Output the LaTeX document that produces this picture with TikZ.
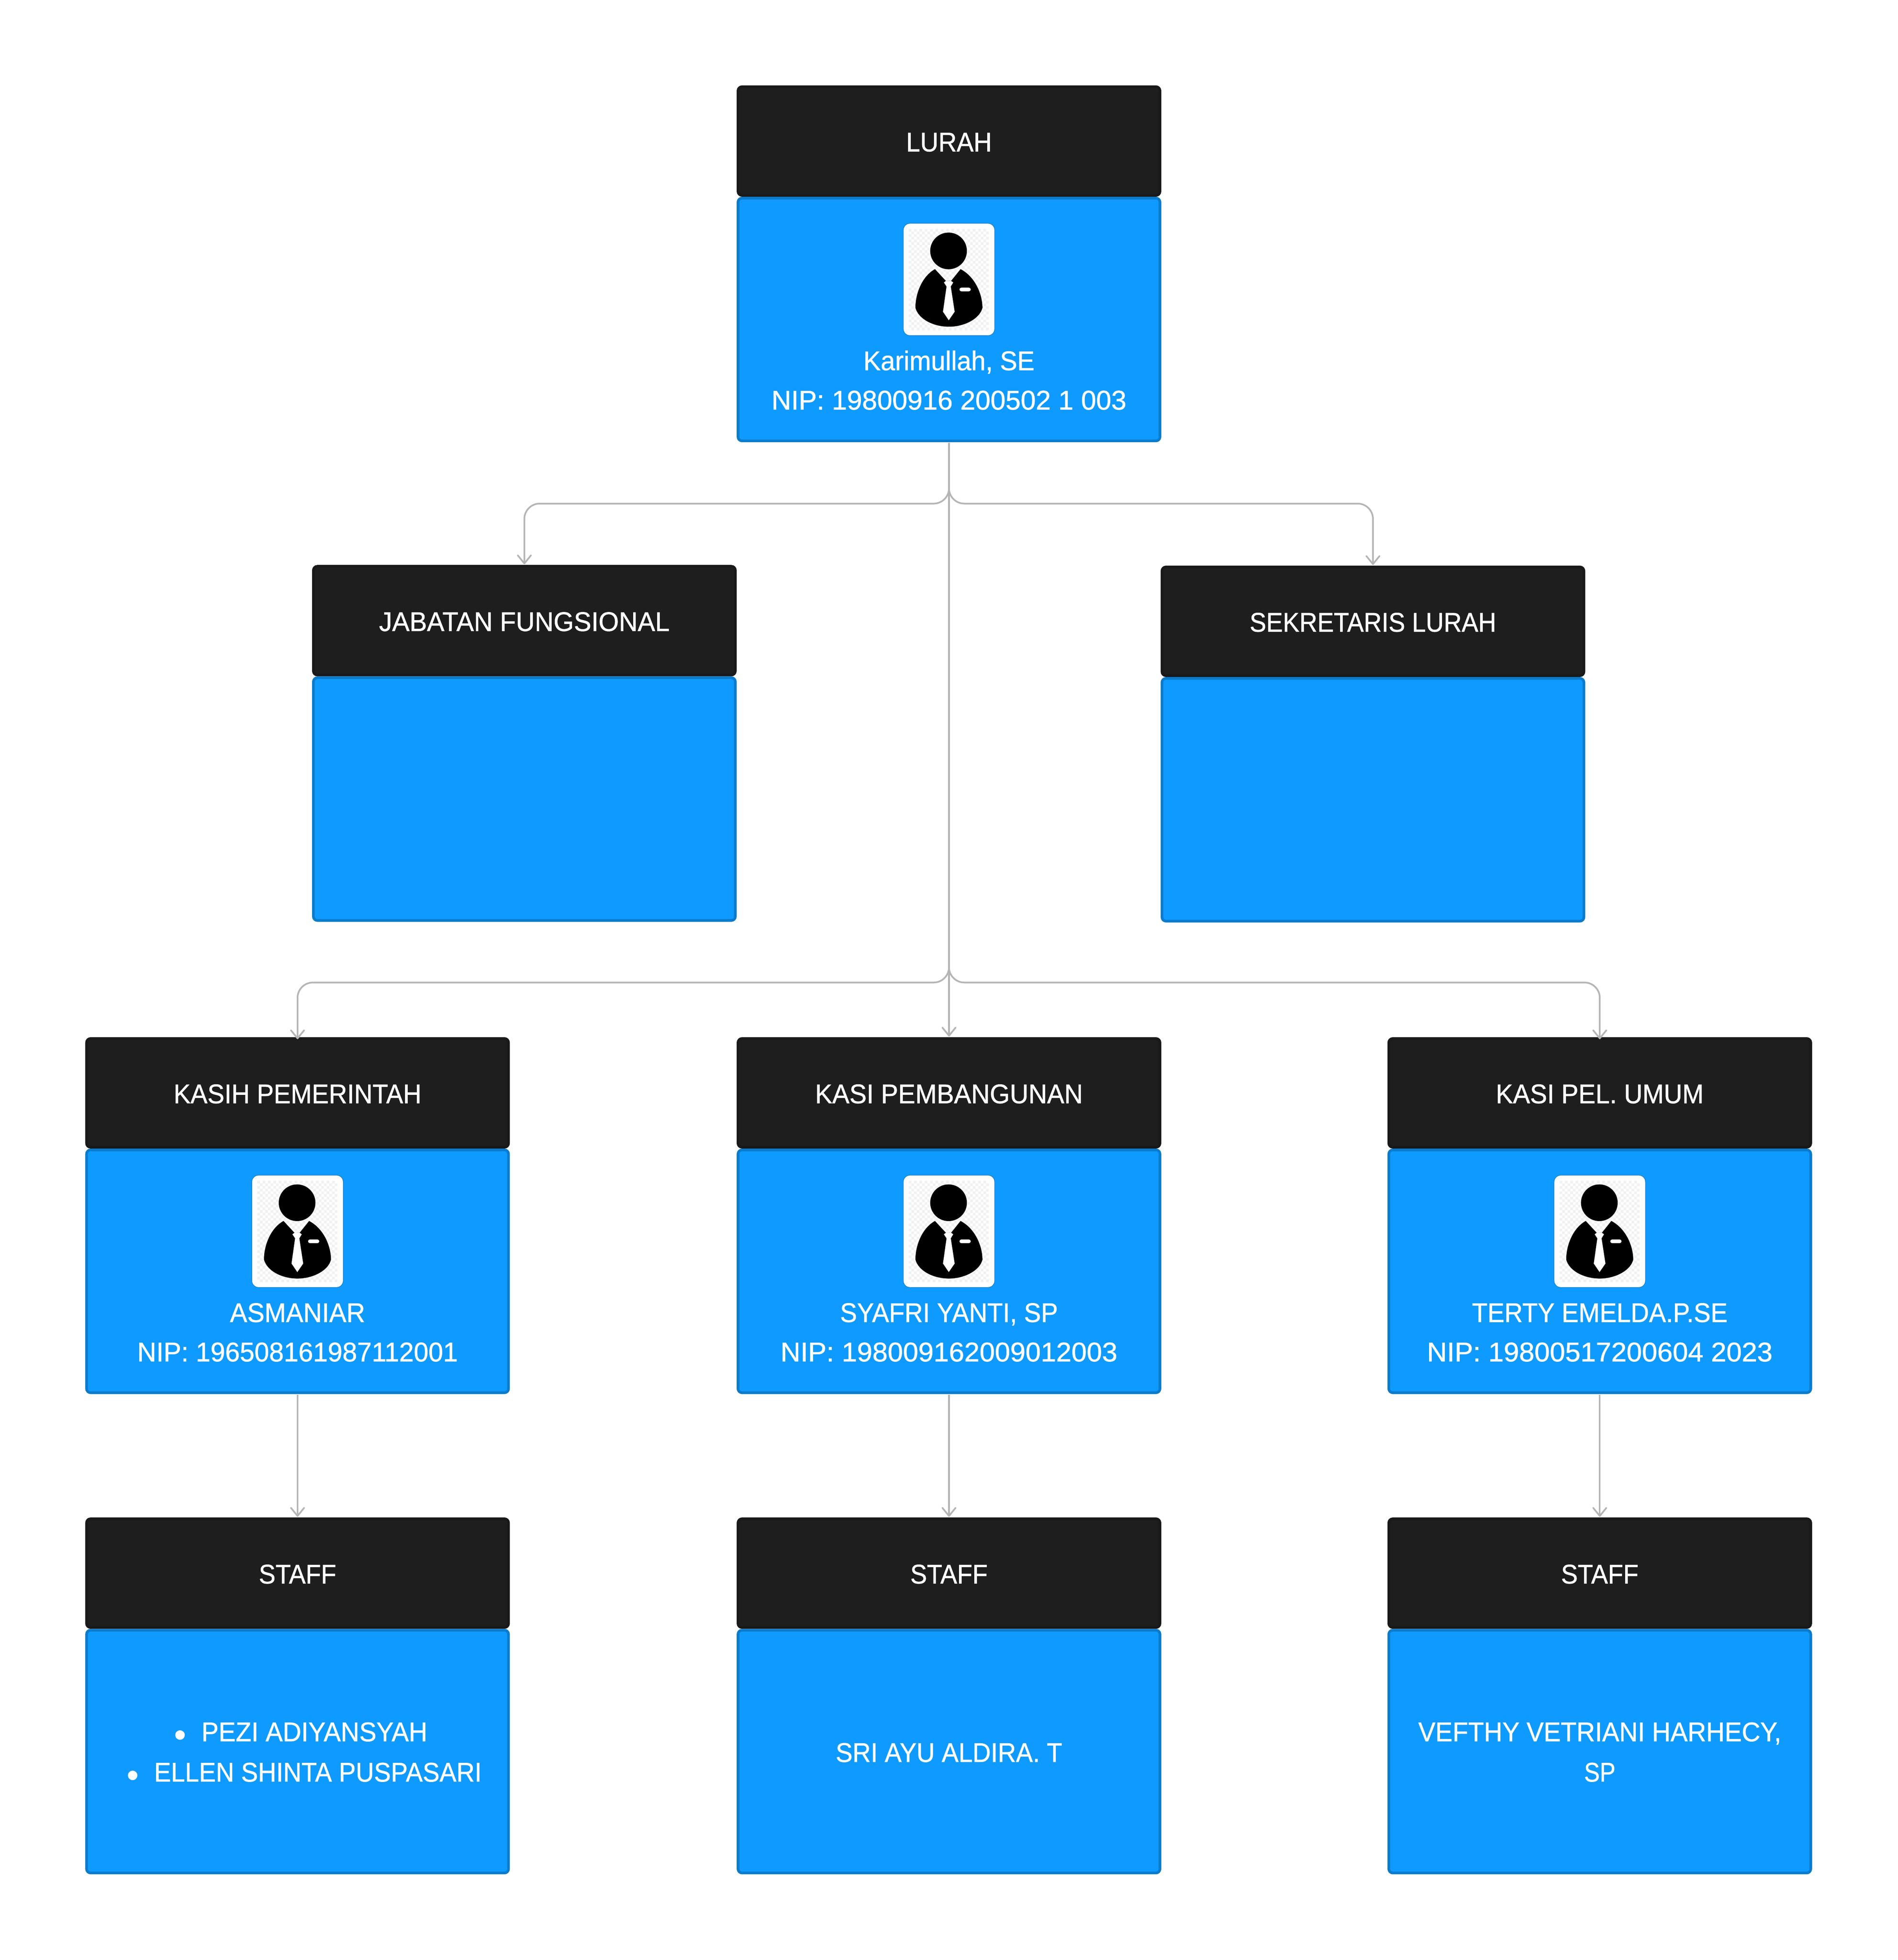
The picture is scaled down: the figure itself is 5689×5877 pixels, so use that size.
\documentclass[tikz,border=0pt]{standalone}
\usepackage{graphicx}
\usepackage{fontspec}
\setmainfont[FakeStretch=1.0]{Liberation Sans}
\newfontfamily\labelfont[FakeBold=1]{Liberation Sans}
\usetikzlibrary{arrows.meta}
\definecolor{headfill}{HTML}{1E1E1E}
\definecolor{headline}{HTML}{191919}
\definecolor{bodyfill}{HTML}{0F9AFF}
\definecolor{bodyline}{HTML}{0B7BCC}
\definecolor{wire}{HTML}{B5B5B5}
\definecolor{checkgray}{HTML}{F1F1F1}
\newcommand{\fitw}[2]{\resizebox{#1\dimexpr0.1pt\relax}{\height}{#2}}
\newcommand{\listdot}{\makebox[8.2pt][l]{\raisebox{-1.5pt}{\scalebox{1.25}{•}}}}
\tikzset{
  headbox/.style={draw=headline,fill=headfill,line width=0.8pt,rounded corners=1.2pt,
    minimum width=126.5pt,minimum height=32.6pt,inner sep=0pt,outer sep=0pt,
    text height=6.2pt,text depth=0pt,
    text=white,font=\labelfont\fontsize{8.1}{12}\selectfont},
  bodybox/.style={draw=bodyline,fill=bodyfill,line width=0.8pt,rounded corners=1.2pt,
    minimum width=126.5pt,minimum height=72.8pt,inner sep=0pt,outer sep=0pt},
  bodytext/.style={text=white,inner sep=0pt,anchor=base,font=\labelfont\fontsize{8.1}{12}\selectfont},
  listtext/.style={text=white,inner sep=0pt,anchor=base west,font=\labelfont\fontsize{8.1}{12}\selectfont},
  wireline/.style={draw=wire,line width=0.5pt,
    -{Straight Barb[length=2.4pt,width=3.9pt,line width=0.5pt,round]},
    shorten >=0.6pt,shorten <=0.6pt},
  wirecurve/.style={wireline,rounded corners=4.6pt},
  person/.pic={
    \begin{scope}[x=0.03333pt,y=-0.03333pt,shift={(-584,-565)}]
      \fill[white,draw=bodyline,line width=0.15pt,rounded corners=2pt] (173,60) rectangle (995,1070);
      \fill[checkgray]
        \foreach \i in {0,...,29}{\foreach \j in {0,...,37}{
          \pgfextra{\pgfmathtruncatemacro{\odd}{mod(\i+\j,2)}}
          \ifnum\odd=0 (222+\i*24,110+\j*24) rectangle ++(24,24) \fi
        }};
      \fill[black] (580,308) circle[radius=165];
      \fill[black] (458,472) -- (556,578) -- (603,578) -- (688,472)
        .. controls (820,540) and (885,700) .. (885,820)
        .. controls (860,920) and (720,990) .. (585,990)
        .. controls (440,990) and (310,920) .. (282,820)
        .. controls (282,680) and (350,530) .. (458,472) -- cycle;
      \fill[white] (556,578) -- (538,592) -- (562,628) -- (530,855) -- (582,932)
        -- (635,855) -- (600,628) -- (622,592) -- (603,578) -- cycle;
      \fill[white,rounded corners=0.6pt] (678,638) rectangle (780,672);
    \end{scope}
  }
}
\newcommand{\orgbox}[4]{%
  \node[headbox] (#1h) at (#2,#3+167) {#4};
  \node[bodybox] (#1b) at (#2,#3+702) {};
}
\begin{document}
\begin{tikzpicture}[x=0.1pt,y=-0.1pt]
\useasboundingbox[fill=white] (0,0) rectangle (5689,5877);
\coordinate (split1) at (2845,1510);
\coordinate (split2) at (2845,2946);

\orgbox{lurah}{2845}{256}{\fitw{257}{LURAH}}
\orgbox{fung}{1572}{1694}{\fitw{871}{JABATAN FUNGSIONAL}}
\orgbox{sekr}{4116}{1696}{\fitw{739}{SEKRETARIS LURAH}}
\orgbox{pem}{892}{3110}{\fitw{743}{KASIH PEMERINTAH}}
\orgbox{bang}{2845}{3110}{\fitw{803}{KASI PEMBANGUNAN}}
\orgbox{umum}{4796}{3110}{\fitw{623}{KASI PEL. UMUM}}
\orgbox{sa}{892}{4550}{\fitw{232}{STAFF}}
\orgbox{sb}{2845}{4550}{\fitw{232}{STAFF}}
\orgbox{sc}{4796}{4550}{\fitw{232}{STAFF}}

\pic at (2845,838) {person};
\pic at (892,3692) {person};
\pic at (2845,3692) {person};
\pic at (4796,3692) {person};

\node[bodytext] (t1) at (2845,1110) {\fitw{513}{Karimullah, SE}};
\node[bodytext] (t2) at (2845,1228) {\fitw{1064}{NIP: 19800916 200502 1 003}};
\node[bodytext] (t3) at (892,3964) {\fitw{405}{ASMANIAR}};
\node[bodytext] (t4) at (892,4082) {\fitw{961}{NIP: 196508161987112001}};
\node[bodytext] (t5) at (2845,3964) {\fitw{653}{SYAFRI YANTI, SP}};
\node[bodytext] (t6) at (2845,4082) {\fitw{1010}{NIP: 198009162009012003}};
\node[bodytext] (t7) at (4796,3964) {\fitw{766}{TERTY EMELDA.P.SE}};
\node[bodytext] (t8) at (4796,4082) {\fitw{1036}{NIP: 19800517200604 2023}};
\node[listtext] (t9) at (520,5221) {\listdot\fitw{677}{PEZI ADIYANSYAH}};
\node[listtext] (t10) at (378,5342) {\listdot\fitw{982}{ELLEN SHINTA PUSPASARI}};
\node[bodytext] (t11) at (2845,5283) {\fitw{679}{SRI AYU ALDIRA. T}};
\node[bodytext] (t12) at (4796,5221) {\fitw{1088}{VEFTHY VETRIANI HARHECY,}};
\node[bodytext] (t13) at (4796,5342) {\fitw{94}{SP}};

\draw[wirecurve] (lurahb.south) -- (split1) -| (fungh.north);
\draw[wirecurve] (lurahb.south) -- (split1) -| (sekrh.north);
\draw[wireline] (lurahb.south) -- (bangh.north);
\draw[wirecurve,shorten >=-0.2pt] (lurahb.south) -- (split2) -| (pemh.north);
\draw[wirecurve,shorten >=-0.2pt] (lurahb.south) -- (split2) -| (umumh.north);
\draw[wireline] (pemb.south) -- (sah.north);
\draw[wireline] (bangb.south) -- (sbh.north);
\draw[wireline] (umumb.south) -- (sch.north);
\end{tikzpicture}
\end{document}
